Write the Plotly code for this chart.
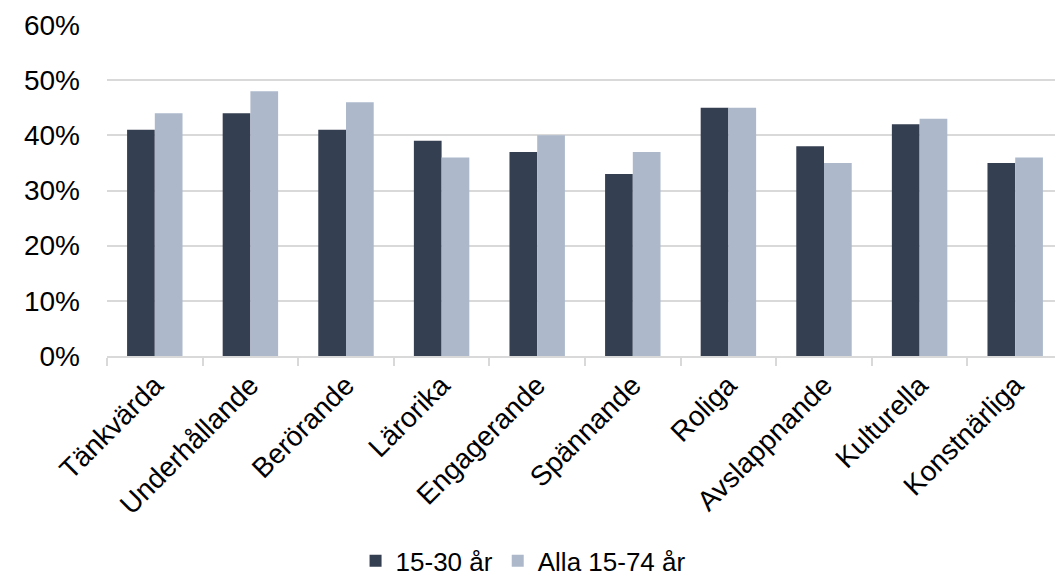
import plotly.graph_objects as go

categories = ['Tänkvärda', 'Underhållande', 'Berörande', 'Lärorika', 'Engagerande',
              'Spännande', 'Roliga', 'Avslappnande', 'Kulturella', 'Konstnärliga']
young = [41, 44, 41, 39, 37, 33, 45, 38, 42, 35]
everyone = [44, 48, 46, 36, 40, 37, 45, 35, 43, 36]
series_names = ['15-30 år', 'Alla 15-74 år']

font = 'Liberation Sans, Arial, sans-serif'

fig = go.Figure(
    data=[
        go.Bar(x=categories, y=[v / 100 for v in young], name=series_names[0],
               marker={'color': '#343F51', 'line': {'width': 0}}),
        go.Bar(x=categories, y=[v / 100 for v in everyone], name=series_names[1],
               marker={'color': '#ADB9CB', 'line': {'width': 0}}),
    ]
)

# page body has an 8px margin, so the figure is drawn 8px in from the corner
fig.update_layout(
    width=1055, height=579,
    margin={'l': 99, 'r': 0, 't': 17, 'b': 231},
    plot_bgcolor='white', paper_bgcolor='white',
    barmode='group', bargap=0.42, bargroupgap=0,
    font={'family': font, 'size': 28, 'color': '#000000'},
    showlegend=True,
    legend={'orientation': 'h', 'x': 0.26, 'xanchor': 'left',
            'yref': 'container', 'y': 0.045, 'yanchor': 'middle',
            'font': {'size': 26}, 'itemwidth': 30, 'tracegroupgap': 0},
)
fig.update_yaxes(
    range=[0, 0.6], dtick=0.1, tickformat='.0%', automargin=False,
    showgrid=True, gridcolor='#D9D9D9', gridwidth=1.5,
    zeroline=False, showline=False, ticks='', ticklabelstandoff=26,
)
fig.update_xaxes(
    tickangle=-45, showline=True, linecolor='#D9D9D9', linewidth=1.5,
    ticks='outside', tickson='boundaries', ticklen=8, tickcolor='#D9D9D9',
    tickwidth=1.5, showgrid=False, automargin=False,
)

fig.write_html('out.html')
